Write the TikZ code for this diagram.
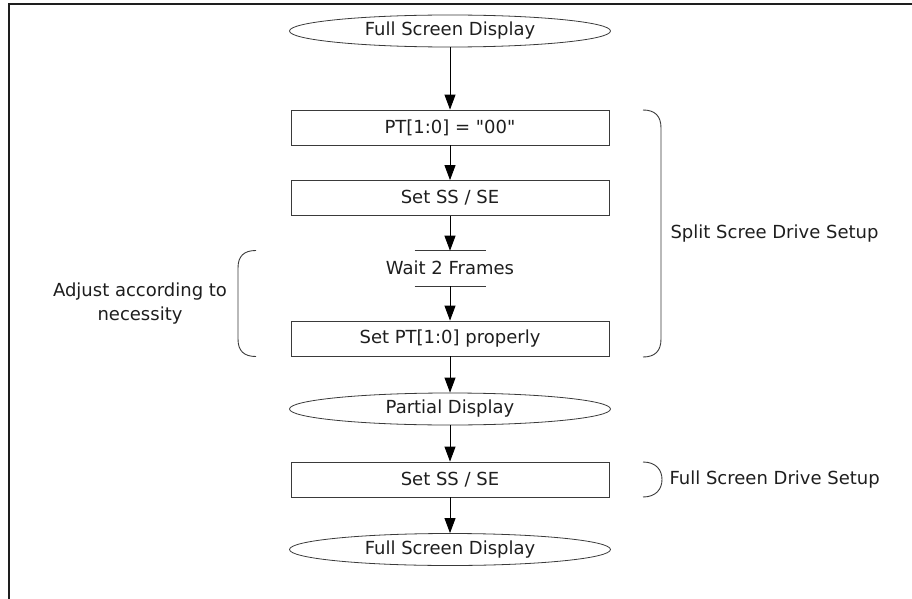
\documentclass[tikz,border=0pt]{standalone}
\usepackage{fontspec}
% plain family: no TeX ligature mapping, so " stays a straight quote
\newfontfamily\diagfont{DejaVu Sans}
\usetikzlibrary{shapes.geometric,arrows.meta,calc}
\definecolor{ink}{HTML}{1E1E1E}
\definecolor{edge}{HTML}{3A3A3A}
\tikzset{
  txt/.style={font=\diagfont\fontsize{18}{24}\selectfont, text=ink},
  terminal/.style={txt, ellipse, draw=edge, line width=0.8pt,
    minimum width=321pt, minimum height=32pt, inner sep=0pt},
  stepbox/.style={txt, rectangle, draw=edge, line width=0.8pt,
    minimum width=318pt, minimum height=35pt, inner sep=0pt},
  bar/.style={minimum width=71pt, minimum height=0pt, inner sep=0pt, outer sep=0pt},
  flow/.style={draw=black, line width=0.9pt, -{Triangle[length=15pt,width=11pt]}},
  bracket/.style={draw=edge, line width=0.9pt},
  frameline/.style={draw=ink, line width=1.6pt}
}
\begin{document}
\begin{tikzpicture}[x=1pt,y=-1pt]
  \useasboundingbox (0,0) rectangle (912,599);
  % partial page frame
  \draw[frameline] (9,599) -- (9,4) -- (912,4);

  % flow chart
  \node[terminal] (start) at (450,31) {Full Screen Display};
  \node[stepbox] (pt0) at (450,127.5) {PT[1:0] = "00"};
  \node[stepbox] (ss1) at (450,198) {Set SS / SE};
  \node[bar] (wtop) at (450,250.7) {};
  \node[txt] (wait) at (450,268) {Wait 2 Frames};
  \node[bar] (wbot) at (450,286) {};
  \node[stepbox] (ptset) at (450,338.5) {Set PT[1:0] properly};
  \node[terminal] (part) at (450,409) {Partial Display};
  \node[stepbox] (ss2) at (450,479.5) {Set SS / SE};
  \node[terminal] (final) at (450,549.5) {Full Screen Display};

  % wait step bars
  \draw[edge, line width=0.9pt] (wtop.west) -- (wtop.east);
  \draw[edge, line width=0.9pt] (wbot.west) -- (wbot.east);

  % connectors
  \draw[flow] (start) -- (pt0);
  \draw[flow] (pt0) -- (ss1);
  \draw[flow] (ss1) -- (wtop.center);
  \draw[flow] (wbot.center) -- (ptset);
  \draw[flow] (ptset) -- (part);
  \draw[flow] (part) -- (ss2);
  \draw[flow] (ss2) -- (final);

  % split screen bracket
  \draw[bracket] (643,110) .. controls (655,110) and (661,116) .. (661,128)
    -- (661,339) .. controls (661,351) and (655,357) .. (643,357);
  \node[txt, anchor=west] (split) at (667,234) {Split Scree Drive Setup};

  % full screen bracket
  \draw[bracket] (643,462) .. controls (656,462) and (662,470) .. (662,479.5)
    .. controls (662,489) and (656,497) .. (643,497);
  \node[txt, anchor=west] (full) at (666,479.5) {Full Screen Drive Setup};

  % adjust bracket
  \draw[bracket] (256,250.5) .. controls (244,250.5) and (238,256) .. (238,268)
    -- (238,339) .. controls (238,351) and (244,356.5) .. (256,356.5);
  \node[txt, align=center] (adjust) at (140,304) {Adjust according to\\necessity};
\end{tikzpicture}
\end{document}
